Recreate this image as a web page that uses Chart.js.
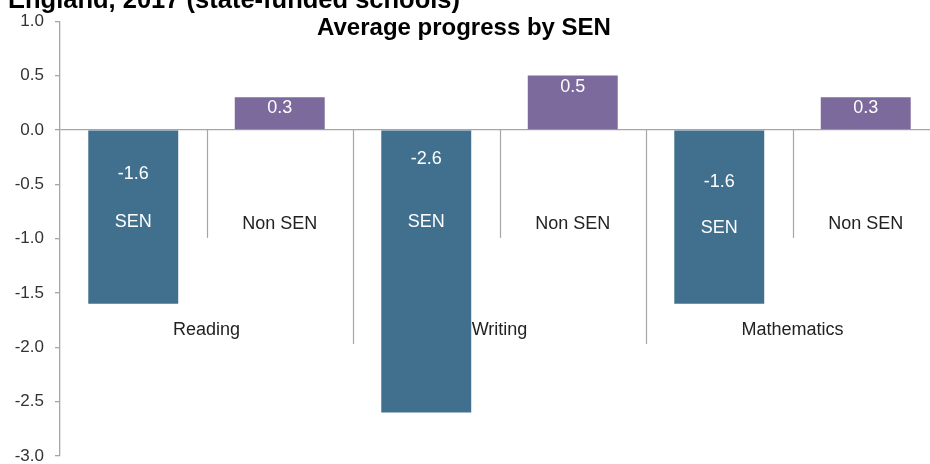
<!DOCTYPE html>
<html>
<head>
<meta charset="utf-8">
<script src="https://cdn.jsdelivr.net/npm/chart.js@4.4.1/dist/chart.umd.min.js"></script>
<style>
  html, body { margin: 0; padding: 0; background: #fff; }
  #wrap { width: 930px; height: 464px; overflow: hidden; position: relative; }
  canvas { display: block; }
</style>
</head>
<body>
<div id="wrap"><canvas id="c" width="950" height="480" style="width:950px;height:480px"></canvas></div>
<script>
// ---- data ----
const categories = ['Reading', 'Writing', 'Mathematics'];
const groups = ['SEN', 'Non SEN'];
const senValues = [-1.6, -2.6, -1.6];
const nonSenValues = [0.3, 0.5, 0.3];
const yTickLabels = ['-3.0', '-2.5', '-2.0', '-1.5', '-1.0', '-0.5', '0.0', '0.5', '1.0'];
const headingText = 'England, 2017 (state-funded schools)';
const titleText = 'Average progress by SEN';

// ---- build chart table ----
const labels = [];
const values = [];
const groupOf = [];
categories.forEach((cat, i) => {
  labels.push(cat + ' ' + groups[0]); values.push(senValues[i]); groupOf.push(0);
  labels.push(cat + ' ' + groups[1]); values.push(nonSenValues[i]); groupOf.push(1);
});
const SEN_COLOR = '#41708f';
const NON_COLOR = '#7b6a9b';
const FONT = '"Liberation Sans", Arial, sans-serif';

const tickNums = yTickLabels.map(Number);

const labelPlugin = {
  id: 'labelPlugin',
  beforeDatasetsDraw(chart) {
    const ctx = chart.ctx;
    const xs = chart.scales.x, ys = chart.scales.y;
    const zeroY = ys.getPixelForValue(0);
    ctx.save();
    // separators
    ctx.strokeStyle = '#a6a6a6';
    ctx.lineWidth = 1.2;
    for (let j = 0; j < labels.length - 1; j++) {
      const x = Math.round((xs.getPixelForValue(j) + xs.getPixelForValue(j + 1)) / 2) + 0.5;
      const sameGroup = groupOf[j] === 0;
      const len = sameGroup ? 108 : 214;
      ctx.beginPath();
      ctx.moveTo(x, zeroY);
      ctx.lineTo(x, zeroY + len);
      ctx.stroke();
    }
    // outer category labels
    ctx.font = '18px ' + FONT;
    ctx.fillStyle = '#222';
    ctx.textAlign = 'center';
    ctx.textBaseline = 'middle';
    categories.forEach((cat, i) => {
      const x = (xs.getPixelForValue(2 * i) + xs.getPixelForValue(2 * i + 1)) / 2;
      ctx.fillText(cat, x, zeroY + 200);
    });
    ctx.restore();
  },
  afterDatasetsDraw(chart) {
    const ctx = chart.ctx;
    const xs = chart.scales.x, ys = chart.scales.y;
    const zeroY = ys.getPixelForValue(0);
    const meta = chart.getDatasetMeta(0);
    const negValueOffsets = [44, 29, 52];
    const senLabelOffsets = [92, 92, 98];
    const nonLabelOffset = 94;
    ctx.save();
    ctx.font = '18px ' + FONT;
    ctx.textAlign = 'center';
    ctx.textBaseline = 'middle';
    meta.data.forEach((bar, j) => {
      const v = values[j];
      const ci = Math.floor(j / 2);
      const x = bar.x;
      // value labels
      ctx.fillStyle = '#ffffff';
      if (v >= 0) {
        ctx.fillText(v.toFixed(1), x, bar.y + 11);
      } else {
        ctx.fillText(v.toFixed(1), x, zeroY + negValueOffsets[ci]);
      }
      // inner category labels
      if (groupOf[j] === 0) {
        ctx.fillStyle = '#ffffff';
        ctx.fillText(groups[0], x, zeroY + senLabelOffsets[ci]);
      } else {
        ctx.fillStyle = '#222';
        ctx.fillText(groups[1], x, zeroY + nonLabelOffset);
      }
    });
    // chart title
    ctx.fillStyle = '#000';
    ctx.font = 'bold 24px ' + FONT;
    ctx.fillText(titleText, 464, 28);
    // heading (cut off at top)
    ctx.textAlign = 'left';
    ctx.textBaseline = 'alphabetic';
    ctx.font = 'bold 25.5px ' + FONT;
    ctx.fillText(headingText, 8, 8);
    ctx.restore();
  }
};

new Chart(document.getElementById('c'), {
  type: 'bar',
  data: {
    labels: labels,
    datasets: [{
      data: values,
      backgroundColor: groupOf.map(g => g === 0 ? SEN_COLOR : NON_COLOR),
      borderWidth: 0,
      barPercentage: 0.614,
      categoryPercentage: 1.0
    }]
  },
  options: {
    responsive: false,
    animation: false,
    devicePixelRatio: 1,
    layout: { padding: { left: 0, top: 19, right: 11, bottom: 24 } },
    plugins: { legend: { display: false }, tooltip: { enabled: false }, title: { display: false } },
    scales: {
      x: { display: false },
      y: {
        min: Math.min(...tickNums),
        max: Math.max(...tickNums),
        afterFit(scale) { scale.width = 60; },
        afterBuildTicks(scale) { scale.ticks = tickNums.map(v => ({ value: v })); },
        ticks: {
          padding: 11,
          color: '#333',
          font: { family: FONT, size: 17 },
          callback: (v) => Number(v).toFixed(1)
        },
        grid: {
          drawOnChartArea: true,
          tickLength: 5,
          lineWidth: 1.3,
          color: (c) => (c.tick && c.tick.value === 0) ? '#a6a6a6' : 'rgba(0,0,0,0)',
          tickColor: '#a6a6a6'
        },
        border: { display: true, color: '#a6a6a6', width: 1.3 }
      }
    }
  },
  plugins: [labelPlugin]
});
</script>
</body>
</html>
